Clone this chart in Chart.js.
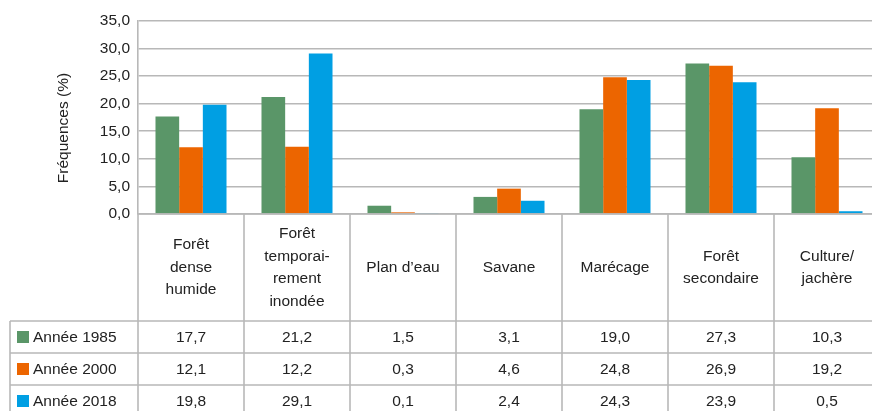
<!DOCTYPE html>
<html lang="fr">
<head>
<meta charset="utf-8">
<title>Fréquences par type d'occupation du sol</title>
<script src="https://cdn.jsdelivr.net/npm/chart.js@4/dist/chart.umd.min.js"></script>
<style>
  html, body { margin: 0; padding: 0; background: #fff; overflow: hidden; }
  #wrap { width: 882px; height: 411px; }
</style>
</head>
<body>
<div id="wrap"><canvas id="freqChart" width="882" height="411"></canvas></div>
<script>
// Land cover classes (header cells of the data table, one array entry per line)
const categories = [
  ['Forêt', 'dense', 'humide'],
  ['Forêt', 'temporai-', 'rement', 'inondée'],
  ["Plan d’eau"],
  ['Savane'],
  ['Marécage'],
  ['Forêt', 'secondaire'],
  ['Culture/', 'jachère']
];

const seriesNames = ['Année 1985', 'Année 2000', 'Année 2018'];
const values1985 = [17.7, 21.2, 1.5, 3.1, 19.0, 27.3, 10.3];
const values2000 = [12.1, 12.2, 0.3, 4.6, 24.8, 26.9, 19.2];
const values2018 = [19.8, 29.1, 0.1, 2.4, 24.3, 23.9, 0.5];
const seriesColors = ['#5a9668', '#ec6500', '#009fe3'];

const yTicks = [0, 5, 10, 15, 20, 25, 30, 35];
const yTitle = 'Fréquences (%)';

const FONT = '"Liberation Sans", Arial, sans-serif';
const FSIZE = 15.5;
const TEXT = '#222';
const LINE = '#b8b8b8';

function fmt(v) {
  return v.toFixed(1).replace('.', ',');
}

// Data table drawn under the plot area, aligned on the category scale
const dataTable = {
  id: 'dataTable',
  afterDraw(chart) {
    const ctx = chart.ctx;
    const x = chart.scales.x;
    const area = chart.chartArea;
    const n = categories.length;
    const colW = x.width / n;
    const top = area.bottom;
    const headH = 107;
    const rowH = 32;
    const left = 10;
    const right = area.right + 20;
    const bottom = top + headH + rowH * seriesNames.length + 10;

    ctx.save();
    ctx.strokeStyle = LINE;
    ctx.lineWidth = 1.6;
    ctx.beginPath();
    // top of header
    ctx.moveTo(area.left, top);
    ctx.lineTo(right, top);
    // row lines
    for (let r = 0; r <= seriesNames.length; r++) {
      const y = top + headH + r * rowH;
      ctx.moveTo(left, y);
      ctx.lineTo(right, y);
    }
    // outer left border of legend column
    ctx.moveTo(left, top + headH);
    ctx.lineTo(left, bottom);
    // category dividers
    for (let i = 0; i <= n; i++) {
      const xx = area.left + i * colW;
      ctx.moveTo(xx, top);
      ctx.lineTo(xx, bottom);
    }
    ctx.stroke();

    ctx.fillStyle = TEXT;
    ctx.font = FSIZE + 'px ' + FONT;
    ctx.textAlign = 'center';
    ctx.textBaseline = 'middle';

    // header labels
    const lineH = 22.5;
    const midHead = top + headH / 2;
    categories.forEach((lines, i) => {
      const cx = x.getPixelForValue(i);
      const y0 = midHead - (lines.length - 1) * lineH / 2;
      lines.forEach((t, k) => ctx.fillText(t, cx, y0 + k * lineH));
    });

    // value rows with legend keys
    const rows = [values1985, values2000, values2018];
    rows.forEach((vals, r) => {
      const cy = top + headH + r * rowH + rowH / 2;
      ctx.fillStyle = seriesColors[r];
      ctx.fillRect(17, cy - 6, 12, 12);
      ctx.fillStyle = TEXT;
      ctx.textAlign = 'left';
      ctx.fillText(seriesNames[r], 33, cy + 1);
      ctx.textAlign = 'center';
      vals.forEach((v, i) => ctx.fillText(fmt(v), x.getPixelForValue(i), cy + 1));
    });

    // y axis title
    ctx.translate(64, 128);
    ctx.rotate(-Math.PI / 2);
    ctx.fillText(yTitle, 0, 0);
    ctx.restore();
  }
};

new Chart(document.getElementById('freqChart'), {
  type: 'bar',
  data: {
    labels: categories.map(c => c.join(' ')),
    datasets: [values1985, values2000, values2018].map((d, k) => ({
      label: seriesNames[k],
      data: d,
      backgroundColor: seriesColors[k],
      borderWidth: 0,
      categoryPercentage: 0.67,
      barPercentage: 1.0
    }))
  },
  options: {
    responsive: false,
    animation: false,
    layout: { padding: { left: 0, top: 21, right: 2, bottom: 197 } },
    plugins: { legend: { display: false }, tooltip: { enabled: false } },
    scales: {
      x: {
        grid: { display: false, drawTicks: false },
        border: { display: false },
        ticks: { display: false }
      },
      y: {
        min: 0,
        max: 35,
        afterBuildTicks(scale) {
          scale.ticks = yTicks.map(v => ({ value: v }));
        },
        afterFit(scale) { scale.width = 138; },
        grid: { color: LINE, lineWidth: 1.6, drawTicks: false },
        border: { color: LINE, width: 1.6 },
        ticks: {
          padding: 8,
          color: TEXT,
          font: { family: FONT, size: FSIZE },
          callback: v => fmt(v)
        }
      }
    }
  },
  plugins: [dataTable]
});
</script>
</body>
</html>
